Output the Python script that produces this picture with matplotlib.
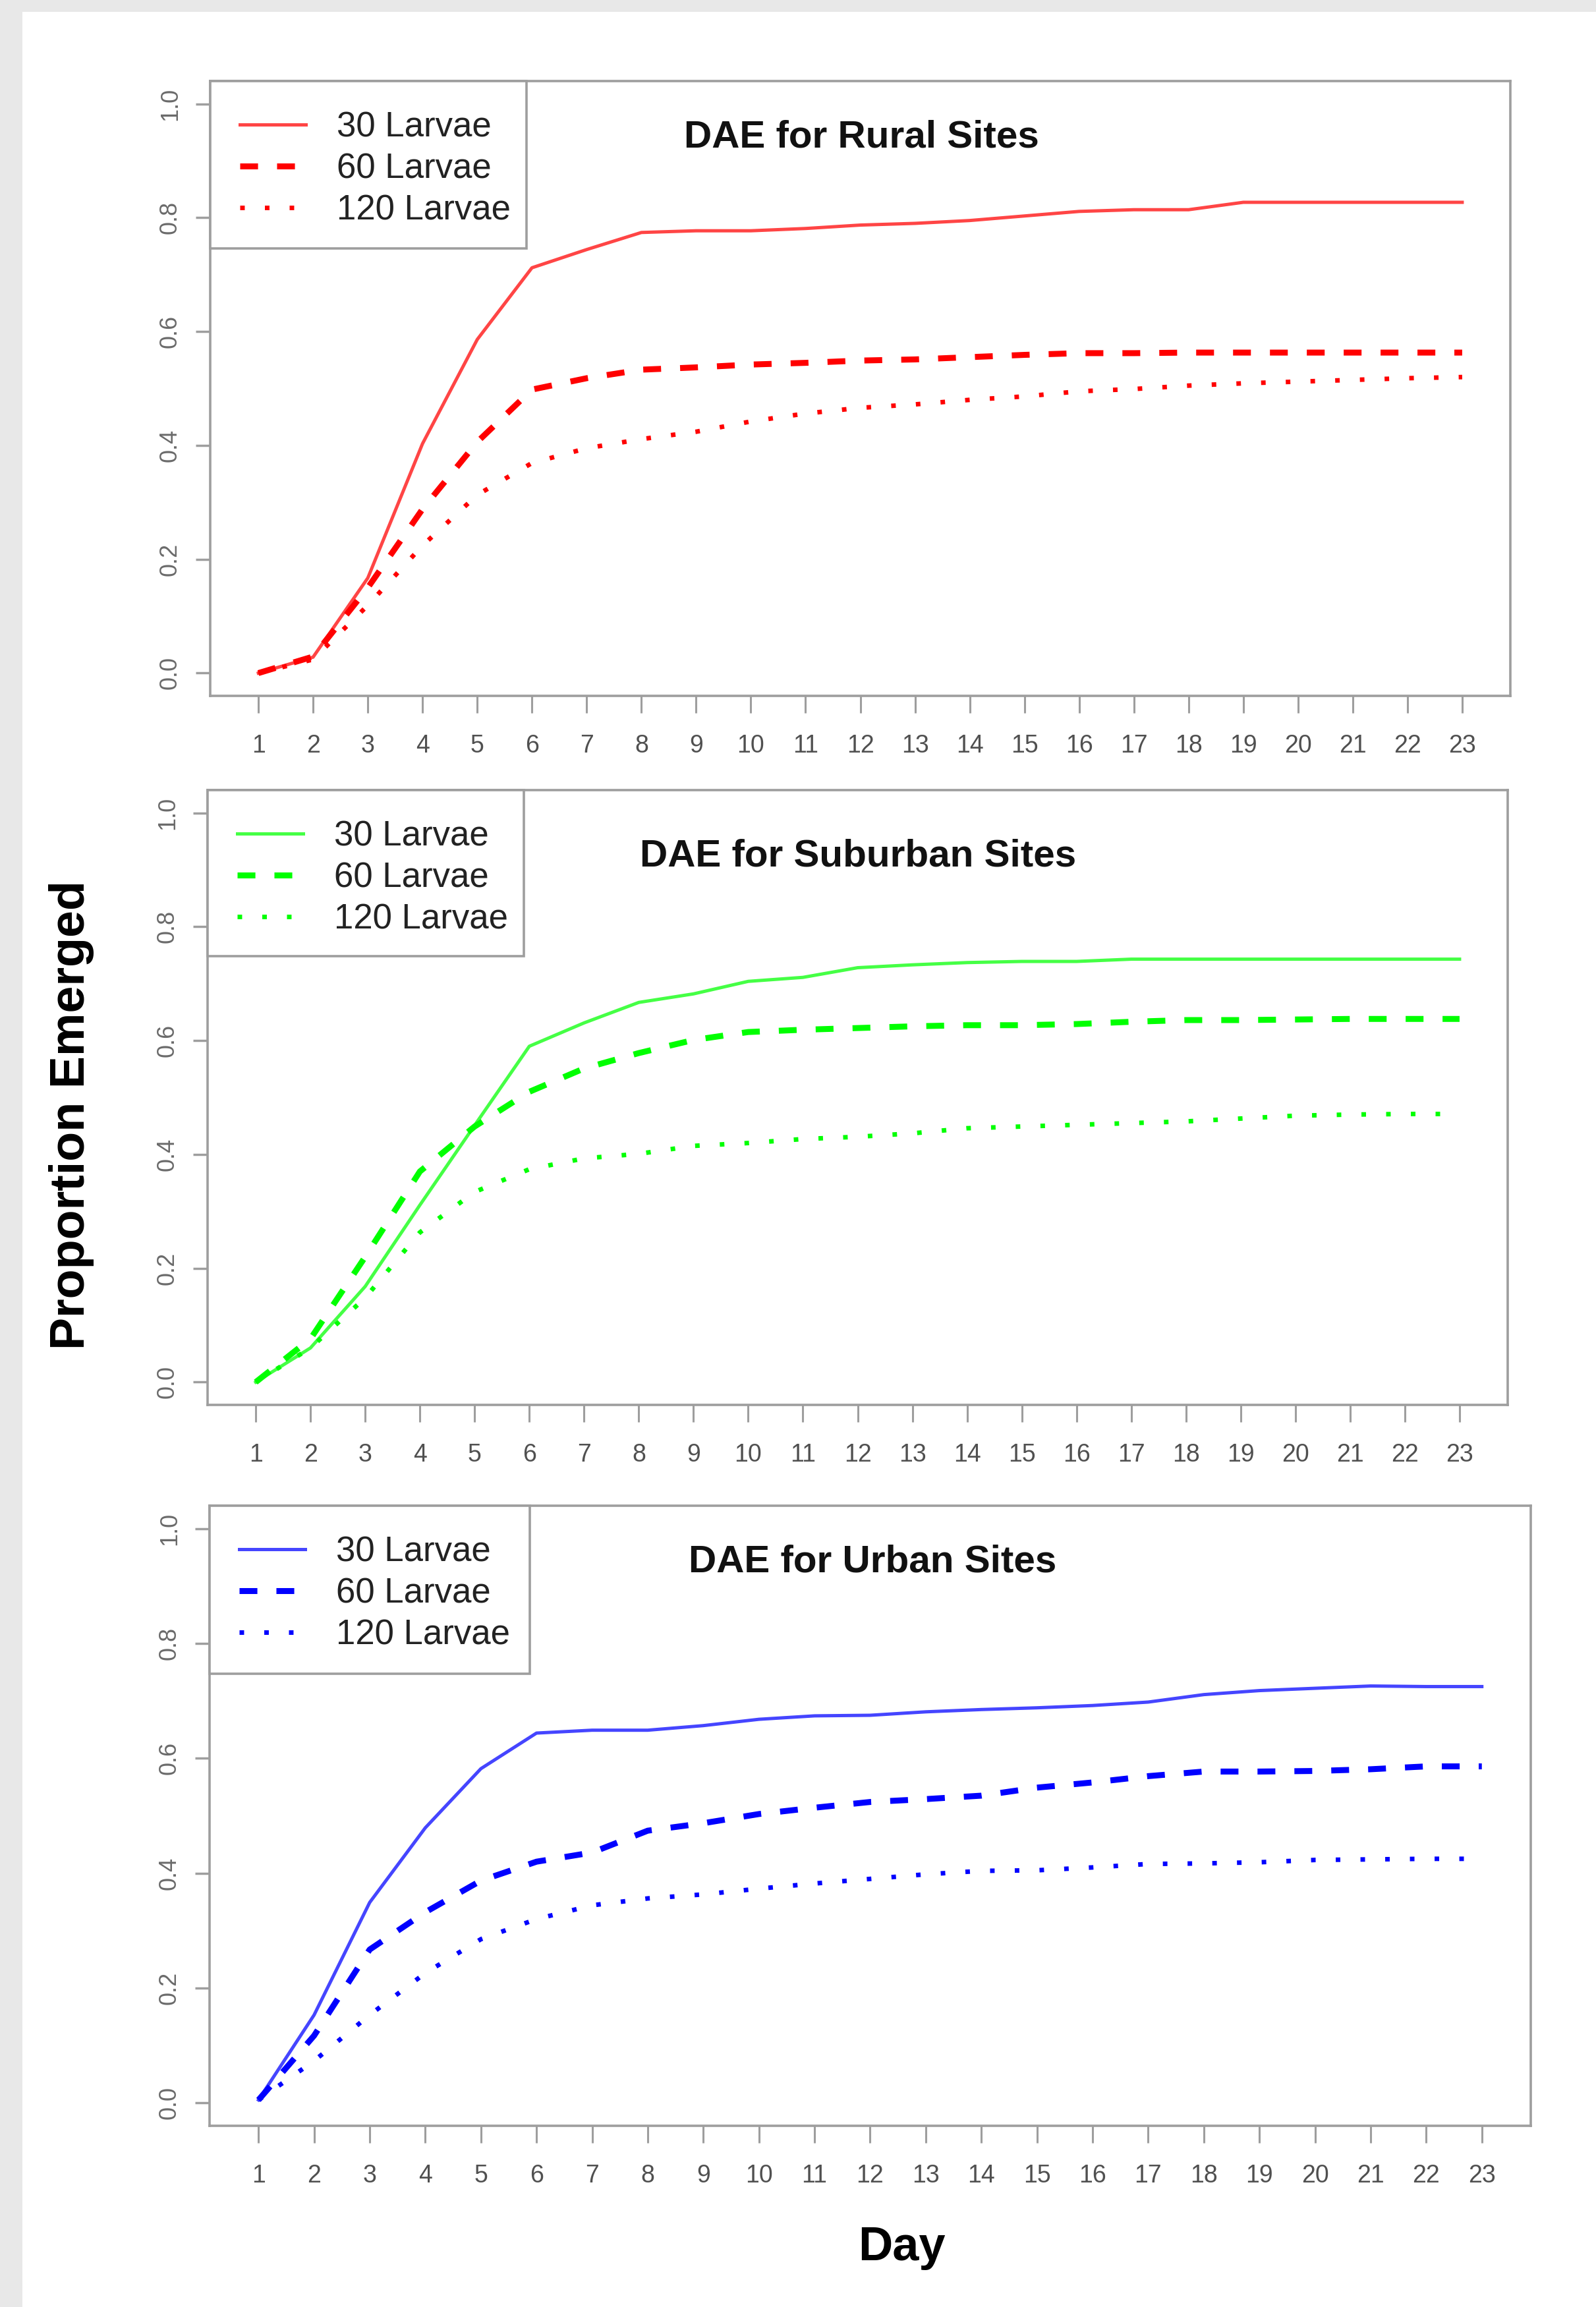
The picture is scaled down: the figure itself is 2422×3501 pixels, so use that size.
import matplotlib
matplotlib.use("Agg")
import matplotlib.pyplot as plt
from matplotlib.patches import Rectangle

plt.rcParams['font.family'] = ['Liberation Sans', 'DejaVu Sans']

# ---------------- data ----------------
days = list(range(1, 24))
series_labels = ["30 Larvae", "60 Larvae", "120 Larvae"]
panel_titles = ["DAE for Rural Sites", "DAE for Suburban Sites", "DAE for Urban Sites"]
y_ticks = [0.0, 0.2, 0.4, 0.6, 0.8, 1.0]
y_tick_labels = ["0.0", "0.2", "0.4", "0.6", "0.8", "1.0"]

rural_30 = [0.0, 0.028, 0.167, 0.403, 0.586, 0.712, 0.744, 0.774, 0.777, 0.777, 0.781, 0.787,
            0.790, 0.795, 0.803, 0.811, 0.814, 0.814, 0.827, 0.827, 0.827, 0.827, 0.827]
rural_60 = [0.0, 0.029, 0.150, 0.288, 0.406, 0.498, 0.518, 0.533, 0.537, 0.542, 0.545, 0.549,
            0.551, 0.555, 0.559, 0.562, 0.562, 0.563, 0.563, 0.563, 0.563, 0.563, 0.563]
rural_120 = [0.0, 0.024, 0.119, 0.224, 0.313, 0.369, 0.395, 0.411, 0.424, 0.442, 0.456, 0.466,
             0.472, 0.480, 0.486, 0.495, 0.499, 0.505, 0.509, 0.512, 0.515, 0.518, 0.520]

suburban_30 = [0.0, 0.060, 0.168, 0.311, 0.451, 0.590, 0.631, 0.667, 0.682, 0.704, 0.711, 0.728,
               0.733, 0.737, 0.739, 0.739, 0.743, 0.743, 0.743, 0.743, 0.743, 0.743, 0.743]
suburban_60 = [0.0, 0.076, 0.220, 0.370, 0.449, 0.510, 0.551, 0.578, 0.601, 0.615, 0.619, 0.622,
               0.625, 0.627, 0.627, 0.629, 0.633, 0.636, 0.636, 0.637, 0.638, 0.638, 0.638]
suburban_120 = [0.0, 0.060, 0.148, 0.263, 0.334, 0.374, 0.393, 0.401, 0.415, 0.420, 0.427, 0.431,
                0.437, 0.446, 0.449, 0.452, 0.455, 0.458, 0.463, 0.468, 0.470, 0.471, 0.471]

urban_30 = [0.005, 0.153, 0.349, 0.479, 0.582, 0.644, 0.649, 0.649, 0.657, 0.668, 0.674, 0.675,
            0.681, 0.685, 0.688, 0.692, 0.698, 0.711, 0.718, 0.722, 0.726, 0.725, 0.725]
urban_60 = [0.005, 0.117, 0.267, 0.332, 0.387, 0.420, 0.436, 0.474, 0.487, 0.503, 0.514, 0.524,
            0.529, 0.535, 0.549, 0.558, 0.569, 0.577, 0.577, 0.578, 0.581, 0.586, 0.586]
urban_120 = [0.005, 0.073, 0.153, 0.226, 0.285, 0.320, 0.344, 0.356, 0.363, 0.373, 0.382, 0.390,
             0.398, 0.404, 0.405, 0.410, 0.416, 0.417, 0.419, 0.423, 0.424, 0.425, 0.425]

panels_data = [(rural_30, rural_60, rural_120),
               (suburban_30, suburban_60, suburban_120),
               (urban_30, urban_60, urban_120)]

# ---------------- styling ----------------
W, H = 2422, 3501
fig = plt.figure(figsize=(W / 100, H / 100), dpi=100)
fig.patch.set_facecolor("white")
fig.add_artist(Rectangle((0, 1 - 18 / H), 1, 18 / H, transform=fig.transFigure,
                         facecolor="#e8e8e8", edgecolor="none", zorder=-10))
fig.add_artist(Rectangle((0, 0), 34 / W, 1, transform=fig.transFigure,
                         facecolor="#e8e8e8", edgecolor="none", zorder=-10))

# axes boxes in pixel coords (left, top, right, bottom)
boxes = [(319, 123, 2292, 1056), (315, 1199, 2288, 2132), (318, 2285, 2323, 3226)]
# legend frame size in pixels (width, height)
legend_px = [(480, 254), (480, 252), (486, 255)]
title_pos = [(0.5008, 0.8928), (0.5005, 0.8762), (0.502, 0.8927)]
solid_colors = ["#ff4545", "#45ff45", "#4545ff"]
main_colors = ["#ff0000", "#00ff00", "#0000ff"]
frame_col = "#9e9e9e"

for i, (l, t, r, b) in enumerate(boxes):
    aw, ah = r - l, b - t
    ax = fig.add_axes([l / W, 1 - b / H, aw / W, ah / H])
    s30, s60, s120 = panels_data[i]
    ax.plot(days, s30, color=solid_colors[i], lw=3.6, label=series_labels[0])
    ax.plot(days, s60, color=main_colors[i], lw=6.5, linestyle=(0, (3.0, 3.2)),
            label=series_labels[1])
    ax.plot(days, s120, color=main_colors[i], lw=5.0, linestyle=(0, (1.0, 4.4)),
            label=series_labels[2])

    ax.set_xlim(0.12, 23.88)
    ax.set_ylim(-0.04, 1.04)
    ax.set_xticks(days)
    ax.set_xticklabels([str(d) for d in days])
    ax.set_yticks(y_ticks)
    ax.set_yticklabels(y_tick_labels)
    ax.tick_params(axis="x", length=19, width=2.2, color=frame_col, pad=23,
                   labelsize=27, labelcolor="#505050")
    ax.tick_params(axis="y", length=16, width=2.5, color=frame_col, pad=15,
                   labelsize=26, labelcolor="#6a6a6a")
    for lab in ax.get_yticklabels():
        lab.set_rotation(90)
        lab.set_va("center")
    for sp in ax.spines.values():
        sp.set_color(frame_col)
        sp.set_linewidth(2.6)

    # legend frame
    lw_px, lh_px = legend_px[i]
    ax.add_patch(Rectangle((0, 1 - lh_px / ah), lw_px / aw, lh_px / ah, transform=ax.transAxes,
                           facecolor="white", edgecolor=frame_col, linewidth=2.6,
                           zorder=4, clip_on=False))
    leg = ax.legend(loc="upper left", bbox_to_anchor=(45 / aw, 1 - 45 / ah), borderaxespad=0,
                    fontsize=38, handlelength=1.9, handletextpad=0.89,
                    labelspacing=0.255, borderpad=0, frameon=False)
    leg.set_zorder(5)
    for txt in leg.get_texts():
        txt.set_color("#222222")

    tx, ty = title_pos[i]
    ax.text(tx, ty, panel_titles[i], transform=ax.transAxes, ha="center", va="baseline",
            fontsize=42, fontweight="bold", color="#111111")

fig.text(109 / W, 1 - 1692 / H, "Proportion Emerged", rotation=90, fontsize=53,
         fontweight="bold", ha="center", va="center", color="black")
fig.text(1368 / W, 1 - 3430 / H, "Day", fontsize=52, fontweight="bold",
         ha="center", va="baseline", color="black")

fig.savefig("out.png", dpi=100, facecolor=fig.get_facecolor())
